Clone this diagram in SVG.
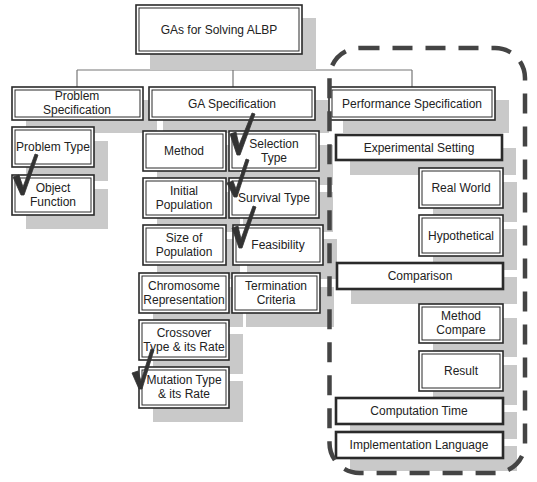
<svg xmlns="http://www.w3.org/2000/svg" width="537" height="482" viewBox="0 0 537 482">
<style>
.sh{fill:#c9c9c9}
.bx{fill:#fff;stroke:#2a2a2a;stroke-width:1.6}
.in{fill:none;stroke:#2a2a2a;stroke-width:1}
.tk{fill:#fff;stroke:#2a2a2a;stroke-width:2.6}
.t{font-family:"Liberation Sans",Arial,sans-serif;font-size:12px;fill:#222;text-anchor:middle}
.c{fill:none;stroke:#777;stroke-width:1.2}
.ck{fill:#333;stroke:#333;stroke-width:0.8;stroke-linejoin:round}
</style>
<rect width="537" height="482" fill="#fff"/>
<g id="connectors">
<path class="c" d="M219 54V70M77 70H412M77 70V87M233 70V87M412 70V87"/>
</g>
<g id="top"><rect class="sh" x="150" y="18" width="166" height="52"/><rect class="bx" x="136" y="5" width="166" height="49"/><rect class="in" x="139" y="8" width="160" height="43"/><text class="t" x="219" y="34">GAs for Solving ALBP</text></g>
<g id="problem-spec"><rect class="sh" x="26" y="100" width="131" height="33"/><rect class="bx" x="12" y="87" width="131" height="33"/><rect class="in" x="15" y="90" width="125" height="27"/><text class="t" x="77" y="100">Problem</text><text class="t" x="77" y="114">Specification</text></g>
<g id="ga-spec"><rect class="sh" x="163" y="100" width="166" height="33"/><rect class="bx" x="149" y="87" width="166" height="33"/><rect class="in" x="152" y="90" width="160" height="27"/><text class="t" x="232" y="108">GA Specification</text></g>
<g id="perf-spec"><rect class="sh" x="343" y="100" width="166" height="33"/><rect class="bx" x="329" y="87" width="166" height="33"/><rect class="in" x="332" y="90" width="160" height="27"/><text class="t" x="412" y="108">Performance Specification</text></g>
<g id="problem-type"><rect class="sh" x="26" y="141" width="82" height="40"/><rect class="bx" x="12" y="127" width="82" height="40"/><rect class="in" x="15" y="130" width="76" height="34"/><text class="t" x="53" y="151">Problem Type</text></g>
<g id="object-function"><rect class="sh" x="26" y="189" width="82" height="40"/><rect class="bx" x="12" y="175" width="82" height="40"/><rect class="in" x="15" y="178" width="76" height="34"/><text class="t" x="53" y="192">Object</text><text class="t" x="53" y="206">Function</text></g>
<g id="method"><rect class="sh" x="157" y="145" width="83" height="40"/><rect class="bx" x="143" y="131" width="83" height="40"/><rect class="in" x="146" y="134" width="77" height="34"/><text class="t" x="184" y="155">Method</text></g>
<g id="selection"><rect class="sh" x="243" y="145" width="90" height="40"/><rect class="bx" x="229" y="131" width="90" height="40"/><rect class="in" x="232" y="134" width="84" height="34"/><text class="t" x="274" y="148">Selection</text><text class="t" x="274" y="162">Type</text></g>
<g id="initial"><rect class="sh" x="157" y="192" width="83" height="40"/><rect class="bx" x="143" y="178" width="83" height="40"/><rect class="in" x="146" y="181" width="77" height="34"/><text class="t" x="184" y="195">Initial</text><text class="t" x="184" y="209">Population</text></g>
<g id="survival"><rect class="sh" x="243" y="192" width="90" height="40"/><rect class="bx" x="229" y="178" width="90" height="40"/><rect class="in" x="232" y="181" width="84" height="34"/><text class="t" x="274" y="202">Survival Type</text></g>
<g id="size"><rect class="sh" x="157" y="239" width="83" height="40"/><rect class="bx" x="143" y="225" width="83" height="40"/><rect class="in" x="146" y="228" width="77" height="34"/><text class="t" x="184" y="242">Size of</text><text class="t" x="184" y="256">Population</text></g>
<g id="feasibility"><rect class="sh" x="247" y="239" width="90" height="40"/><rect class="bx" x="233" y="225" width="90" height="40"/><rect class="in" x="236" y="228" width="84" height="34"/><text class="t" x="278" y="249">Feasibility</text></g>
<g id="chromosome"><rect class="sh" x="153" y="287" width="90" height="40"/><rect class="bx" x="139" y="273" width="90" height="40"/><rect class="in" x="142" y="276" width="84" height="34"/><text class="t" x="184" y="290">Chromosome</text><text class="t" x="184" y="304">Representation</text></g>
<g id="termination"><rect class="sh" x="246" y="287" width="88" height="40"/><rect class="bx" x="232" y="273" width="88" height="40"/><rect class="in" x="235" y="276" width="82" height="34"/><text class="t" x="276" y="290">Termination</text><text class="t" x="276" y="304">Criteria</text></g>
<g id="crossover"><rect class="sh" x="153" y="334" width="90" height="40"/><rect class="bx" x="139" y="320" width="90" height="40"/><rect class="in" x="142" y="323" width="84" height="34"/><text class="t" x="184" y="337">Crossover</text><text class="t" x="184" y="351">Type &amp; its Rate</text></g>
<g id="mutation"><rect class="sh" x="153" y="381" width="90" height="41"/><rect class="bx" x="139" y="367" width="90" height="41"/><rect class="in" x="142" y="370" width="84" height="35"/><text class="t" x="184" y="384">Mutation Type</text><text class="t" x="184" y="398">&amp; its Rate</text></g>
<g id="experimental"><rect class="sh" x="350" y="148" width="166" height="27"/><rect class="tk" x="336" y="135" width="166" height="25"/><text class="t" x="419" y="152">Experimental Setting</text></g>
<g id="real-world"><rect class="sh" x="433" y="182" width="84" height="40"/><rect class="bx" x="419" y="168" width="84" height="40"/><rect class="in" x="422" y="171" width="78" height="34"/><text class="t" x="461" y="192">Real World</text></g>
<g id="hypothetical"><rect class="sh" x="433" y="229" width="84" height="41"/><rect class="bx" x="419" y="215" width="84" height="41"/><rect class="in" x="422" y="218" width="78" height="35"/><text class="t" x="461" y="240">Hypothetical</text></g>
<g id="comparison"><rect class="sh" x="351" y="277" width="166" height="27"/><rect class="tk" x="337" y="263" width="166" height="26"/><text class="t" x="420" y="280">Comparison</text></g>
<g id="method-compare"><rect class="sh" x="433" y="318" width="84" height="39"/><rect class="bx" x="419" y="304" width="84" height="39"/><rect class="in" x="422" y="307" width="78" height="33"/><text class="t" x="461" y="320">Method</text><text class="t" x="461" y="334">Compare</text></g>
<g id="result"><rect class="sh" x="433" y="365" width="84" height="40"/><rect class="bx" x="419" y="351" width="84" height="40"/><rect class="in" x="422" y="354" width="78" height="34"/><text class="t" x="461" y="375">Result</text></g>
<g id="computation-time"><rect class="sh" x="350" y="412" width="167" height="27"/><rect class="tk" x="336" y="398" width="167" height="26"/><text class="t" x="419" y="415">Computation Time</text></g>
<g id="implementation"><rect class="sh" x="350" y="446" width="167" height="25"/><rect class="tk" x="336" y="432" width="167" height="26"/><text class="t" x="419" y="449">Implementation Language</text></g>
<g id="checks">
<polygon class="ck" points="13,177 19,175 23,187 35,154 38,155 24,195 21,195"/>
<polygon class="ck" points="230,134 236,132 239,145 252,113 255,114 240,155 237,155"/>
<polygon class="ck" points="227,183 233,181 236,189 246,159 249,160 237,197 234,197"/>
<polygon class="ck" points="232,228 238,226 241,239 253,206 256,207 242,248 239,248"/>
<polygon class="ck" points="132,373 138,371 141,381 151,349 154,350 142,389 139,389"/>
</g>
<g id="perf-boundary">
<rect x="329.5" y="48" width="195.5" height="425" rx="30" fill="none" stroke="#444" stroke-width="4.5" stroke-dasharray="20 13"/>
</g>
</svg>
